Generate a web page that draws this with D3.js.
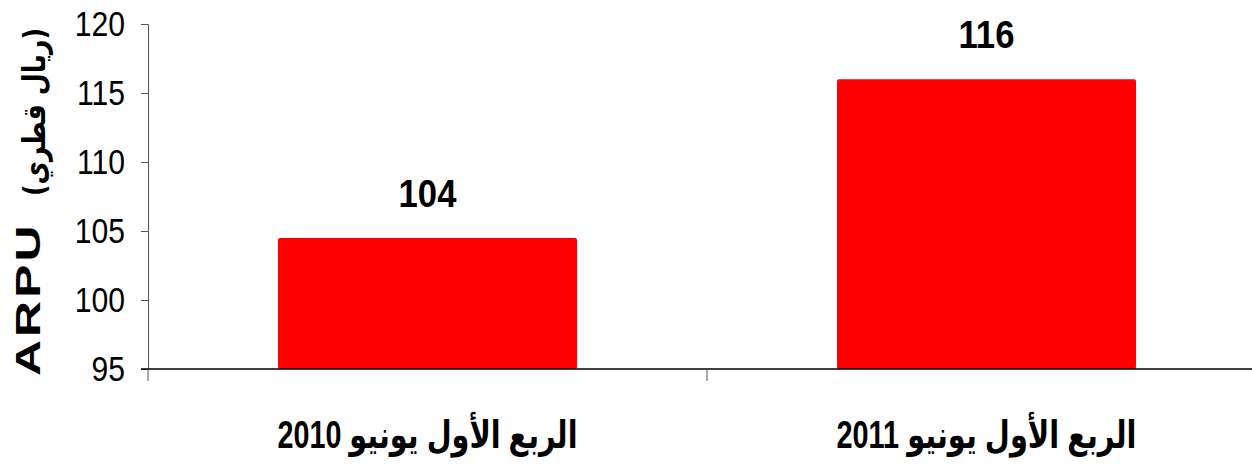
<!DOCTYPE html>
<html>
<head>
<meta charset="utf-8">
<script src="https://cdn.jsdelivr.net/npm/d3@7"></script>
<style>
  body { margin: 0; background: #fff; }
  svg { display: block; }
</style>
</head>
<body>
<svg width="1252" height="464"></svg>
<script>
// Chart data
var categories = ["الربع الأول يونيو 2010", "الربع الأول يونيو 2011"];
var values = [104.49, 116];
var yTicks = [95, 100, 105, 110, 115, 120];
var titleLatin = "ARPU";
var titleArabic = "(ريال قطري)";

var svg = d3.select("svg"),
    width = +svg.attr("width"),
    height = +svg.attr("height");

var margin = {top: 24, right: -14, bottom: 95, left: 148};
var plotW = width - margin.left - margin.right,
    plotH = height - margin.top - margin.bottom;

// squeeze text horizontally to mimic a narrow font
function condense(sel, k) {
  sel.each(function() {
    var len = this.getComputedTextLength();
    d3.select(this).attr("textLength", len * k).attr("lengthAdjust", "spacingAndGlyphs");
  });
}

var g = svg.append("g")
    .attr("transform", "translate(" + margin.left + "," + margin.top + ")");

var x = d3.scaleBand()
    .domain(categories)
    .range([0, plotW])
    .paddingInner(0.465)
    .paddingOuter(0.2325);

var y = d3.scaleLinear()
    .domain([95, 120])
    .range([plotH, 0]);

// Bars
g.selectAll("rect.bar")
    .data(values)
    .enter().append("rect")
    .attr("class", "bar")
    .attr("x", function(d, i) { return x(categories[i]); })
    .attr("y", function(d) { return y(d); })
    .attr("width", x.bandwidth())
    .attr("height", function(d) { return plotH - y(d); })
    .attr("rx", 2)
    .attr("fill", "#ff0000");

// Value labels
g.selectAll("text.val")
    .data(values)
    .enter().append("text")
    .attr("class", "val")
    .attr("x", function(d, i) { return x(categories[i]) + x.bandwidth() / 2; })
    .attr("y", function(d) { return y(d) - 31; })
    .attr("text-anchor", "middle")
    .style("font-family", "'Liberation Sans', Arial, sans-serif")
    .style("font-weight", "bold")
    .style("font-size", "39px")
    .text(function(d) { return d3.format(".0f")(d); })
    .call(condense, 0.89);

// Y axis
var yAxis = g.append("g")
    .call(d3.axisLeft(y).tickValues(yTicks).tickSize(7).tickPadding(16));
yAxis.select(".domain").attr("stroke", "#555");
yAxis.selectAll(".tick line").attr("stroke", "#555");
yAxis.selectAll("text")
    .style("font-family", "'Liberation Sans', Arial, sans-serif")
    .style("font-size", "35px")
    .attr("fill", "#000")
    .call(condense, 0.86);

// X axis (baseline + category separators)
var xAxisG = g.append("g").attr("transform", "translate(0," + plotH + ")");
xAxisG.append("line")
    .attr("x1", -7).attr("x2", plotW)
    .attr("stroke", "#000").attr("stroke-width", 1.5);
var seps = [0].concat(categories.map(function(c) { return x(c) + x.bandwidth() + x.step() * x.paddingInner() / 2; }));
xAxisG.selectAll("line.sep")
    .data(seps)
    .enter().append("line")
    .attr("class", "sep")
    .attr("x1", function(d) { return d; }).attr("x2", function(d) { return d; })
    .attr("y1", 0).attr("y2", 12)
    .attr("stroke", "#555");

// Category labels
xAxisG.selectAll("text.cat")
    .data(categories)
    .enter().append("text")
    .attr("class", "cat")
    .attr("x", function(d) { return x(d) + x.bandwidth() / 2; })
    .attr("y", 79)
    .attr("text-anchor", "middle")
    .attr("direction", "rtl")
    .attr("textLength", 300)
    .attr("lengthAdjust", "spacingAndGlyphs")
    .style("font-family", "'Liberation Sans', 'DejaVu Sans', sans-serif")
    .style("font-weight", "bold")
    .style("font-size", "38px")
    .text(function(d) { return d; });

// Y title: latin part wide and spaced, arabic part stretched
svg.append("text")
    .attr("transform", "translate(40,376) rotate(-90) scale(1,0.7)")
    .attr("text-anchor", "start")
    .style("font-family", "'Liberation Sans', Arial, sans-serif")
    .style("font-weight", "bold")
    .style("font-size", "50px")
    .style("letter-spacing", "3px")
    .text(titleLatin);

svg.append("text")
    .attr("transform", "translate(45,112) rotate(-90)")
    .attr("text-anchor", "middle")
    .attr("textLength", 168)
    .attr("lengthAdjust", "spacingAndGlyphs")
    .style("font-family", "'DejaVu Sans', sans-serif")
    .style("font-weight", "bold")
    .style("font-size", "31px")
    .text(titleArabic);
</script>
</body>
</html>
